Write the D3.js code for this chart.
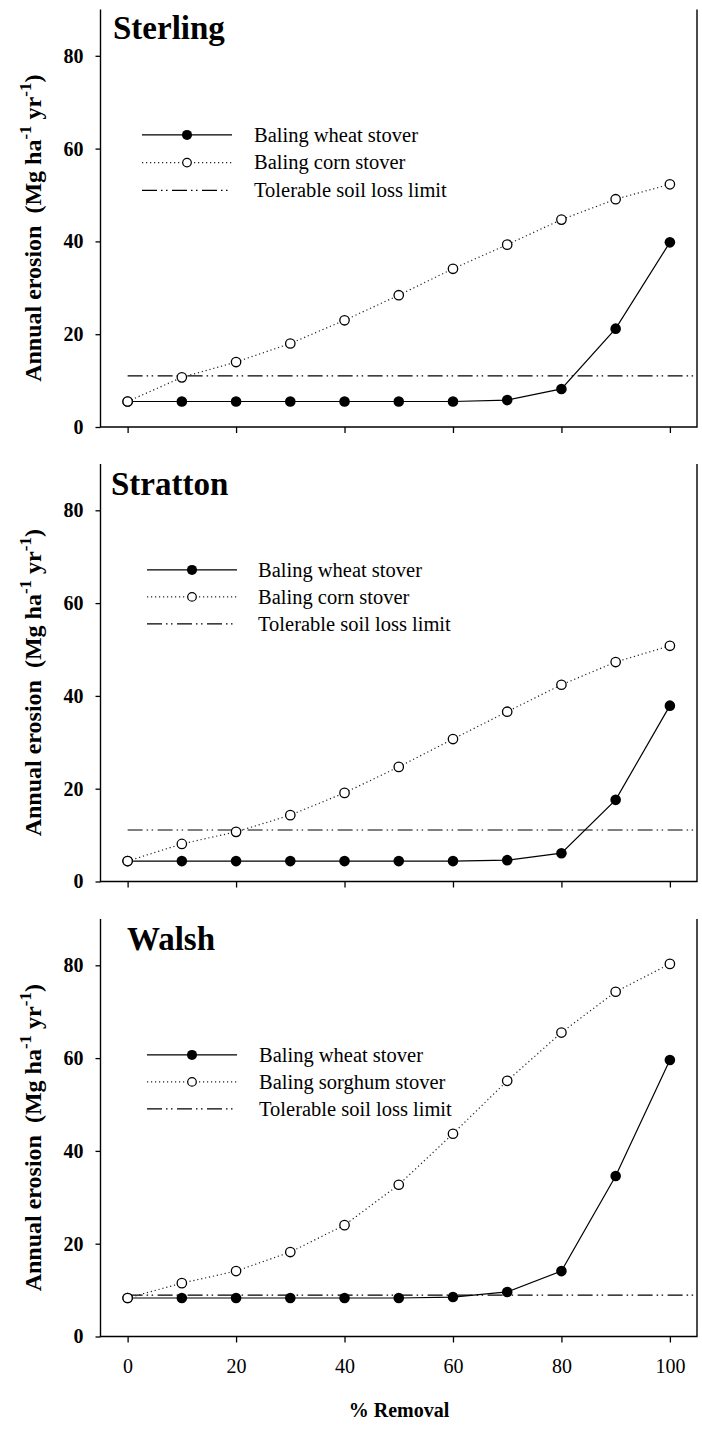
<!DOCTYPE html>
<html>
<head>
<meta charset="utf-8">
<script src="https://cdn.jsdelivr.net/npm/d3@7"></script>
<style>
  body { margin: 0; background: #fff; }
  svg { display: block; }
  text { font-family: "Liberation Serif", "Times New Roman", serif; fill: #000; }
</style>
</head>
<body>
<svg id="chart" width="702" height="1431"></svg>
<script>
// % removal steps shared by all panels
const removal = [0, 10, 20, 30, 40, 50, 60, 70, 80, 90, 100];

const sterlingWheat = [5.5, 5.5, 5.5, 5.5, 5.5, 5.5, 5.5, 5.8, 8.2, 21.2, 39.8];
const sterlingCorn = [5.5, 10.7, 14.0, 18.0, 23.0, 28.4, 34.1, 39.3, 44.7, 49.1, 52.3];
const sterlingLimit = 11.0;

const strattonWheat = [4.4, 4.4, 4.4, 4.4, 4.4, 4.4, 4.4, 4.6, 6.1, 17.6, 37.9];
const strattonCorn = [4.4, 8.1, 10.7, 14.3, 19.1, 24.7, 30.7, 36.6, 42.4, 47.3, 50.8];
const strattonLimit = 11.1;

const walshWheat = [8.3, 8.3, 8.3, 8.3, 8.3, 8.3, 8.5, 9.6, 14.1, 34.6, 59.6];
const walshSorghum = [8.3, 11.5, 14.1, 18.2, 24.0, 32.7, 43.7, 55.1, 65.5, 74.3, 80.3];
const walshLimit = 8.9;

const yTicks = [0, 20, 40, 60, 80];
const xTicks = [0, 20, 40, 60, 80, 100];

const panels = [
    { site: "Sterling", wheat: sterlingWheat, other: sterlingCorn, otherName: "Baling corn stover", limit: sterlingLimit },
    { site: "Stratton", wheat: strattonWheat, other: strattonCorn, otherName: "Baling corn stover", limit: strattonLimit },
    { site: "Walsh", wheat: walshWheat, other: walshSorghum, otherName: "Baling sorghum stover", limit: walshLimit }
];

// layout per panel (pixels)
const layout = [
    { zeroY: 427, titleX: 113, titleDy: 30, legX: 142, legY: 125.5, legGap: 27.7, textX: 254 },
    { zeroY: 881.5, titleX: 111, titleDy: 31, legX: 147, legY: 106, legGap: 27, textX: 258 },
    { zeroY: 1336.5, titleX: 127, titleDy: 31, legX: 147, legY: 136, legGap: 27, textX: 259 }
];

const svg = d3.select("#chart");
const plotH = 417.6;
const left = 100.5, right = 697;

const x = d3.scaleLinear().domain([-5, 105]).range([left, right]);

const dotted = "1.2 2.8";
const dashDot = "15 4 1.5 3.5 1.5 4.5";

panels.forEach((p, i) => {
    const L = layout[i];
    const top = L.zeroY - plotH;
    const y = d3.scaleLinear().domain([0, 90]).range([L.zeroY, top]);
    const g = svg.append("g");

    // y axis ticks and labels
    const yAxis = g.append("g")
        .attr("transform", `translate(${left},0)`)
        .call(d3.axisLeft(y).tickValues(yTicks).tickSize(5).tickPadding(12).tickFormat(d3.format("d")));
    yAxis.select(".domain").remove();
    yAxis.selectAll("line").attr("stroke", "#000").attr("stroke-width", 1.3);
    yAxis.selectAll("text")
        .attr("font-family", "Liberation Serif, Times New Roman, serif")
        .attr("font-size", 20).attr("font-weight", "bold");

    // x axis ticks (labels only in the bottom panel)
    const xAxis = g.append("g")
        .attr("transform", `translate(0,${L.zeroY})`)
        .call(d3.axisBottom(x).tickValues(xTicks).tickSize(6).tickPadding(16)
            .tickFormat(i === panels.length - 1 ? d3.format("d") : () => ""));
    xAxis.select(".domain").remove();
    xAxis.selectAll("line").attr("stroke", "#000").attr("stroke-width", 1.3);
    xAxis.selectAll("text")
        .attr("font-family", "Liberation Serif, Times New Roman, serif")
        .attr("font-size", 20);

    // frame: left, bottom, right (open top)
    g.append("path")
        .attr("d", `M${left},${y(90)}V${L.zeroY}H${right}V${y(90)}`)
        .attr("fill", "none").attr("stroke", "#000").attr("stroke-width", 1.4);

    // tolerable limit
    g.append("line")
        .attr("x1", x(0)).attr("x2", right - 1)
        .attr("y1", y(p.limit)).attr("y2", y(p.limit))
        .attr("stroke", "#000").attr("stroke-width", 1.2)
        .attr("stroke-dasharray", dashDot);

    const line = d3.line().x((d, k) => x(removal[k])).y(d => y(d));

    g.append("path").datum(p.other)
        .attr("d", line).attr("fill", "none")
        .attr("stroke", "#222").attr("stroke-width", 1.2)
        .attr("stroke-dasharray", dotted);

    g.append("path").datum(p.wheat)
        .attr("d", line).attr("fill", "none")
        .attr("stroke", "#000").attr("stroke-width", 1.2);

    g.append("g").selectAll("circle")
        .data(p.wheat).join("circle")
        .attr("cx", (d, k) => x(removal[k])).attr("cy", d => y(d))
        .attr("r", 5.3).attr("fill", "#000");

    g.append("g").selectAll("circle")
        .data(p.other).join("circle")
        .attr("cx", (d, k) => x(removal[k])).attr("cy", d => y(d))
        .attr("r", 4.7).attr("fill", "#fff")
        .attr("stroke", "#000").attr("stroke-width", 1.3);

    // site title
    g.append("text")
        .attr("x", L.titleX).attr("y", top + L.titleDy)
        .attr("font-size", 33).attr("font-weight", "bold")
        .text(p.site);

    // legend
    const items = [
        { name: "Baling wheat stover", dash: null, marker: "filled" },
        { name: p.otherName, dash: dotted, marker: "open" },
        { name: "Tolerable soil loss limit", dash: dashDot, marker: null }
    ];
    const leg = g.append("g").attr("transform", `translate(0,${top + L.legY})`);
    items.forEach((it, k) => {
        const ly = k * L.legGap;
        leg.append("line")
            .attr("x1", L.legX).attr("x2", L.legX + 90)
            .attr("y1", ly).attr("y2", ly)
            .attr("stroke", it.dash === dotted ? "#222" : "#000").attr("stroke-width", 1.2)
            .attr("stroke-dasharray", it.dash);
        if (it.marker === "filled") {
            leg.append("circle").attr("cx", L.legX + 45).attr("cy", ly)
                .attr("r", 5).attr("fill", "#000");
        } else if (it.marker === "open") {
            leg.append("circle").attr("cx", L.legX + 45).attr("cy", ly)
                .attr("r", 4.3).attr("fill", "#fff")
                .attr("stroke", "#000").attr("stroke-width", 1.2);
        }
        leg.append("text")
            .attr("x", L.textX).attr("y", ly).attr("dy", "0.33em")
            .attr("font-size", 20.5)
            .text(it.name);
    });

    // y axis title
    const yt = g.append("text")
        .attr("transform", `translate(41,${(top + L.zeroY) / 2 + 10}) rotate(-90)`)
        .attr("text-anchor", "middle")
        .attr("font-size", 24).attr("font-weight", "bold")
        .style("white-space", "pre");
    yt.append("tspan").text("Annual erosion  (Mg ha");
    yt.append("tspan").attr("dy", -10).attr("font-size", 17).text("-1");
    yt.append("tspan").attr("dy", 10).text(" yr");
    yt.append("tspan").attr("dy", -10).attr("font-size", 17).text("-1");
    yt.append("tspan").attr("dy", 10).text(")");
});

// x axis title
svg.append("text")
    .attr("x", 399).attr("y", 1417)
    .attr("text-anchor", "middle")
    .attr("font-size", 20).attr("font-weight", "bold")
    .text("% Removal");
</script>
</body>
</html>
